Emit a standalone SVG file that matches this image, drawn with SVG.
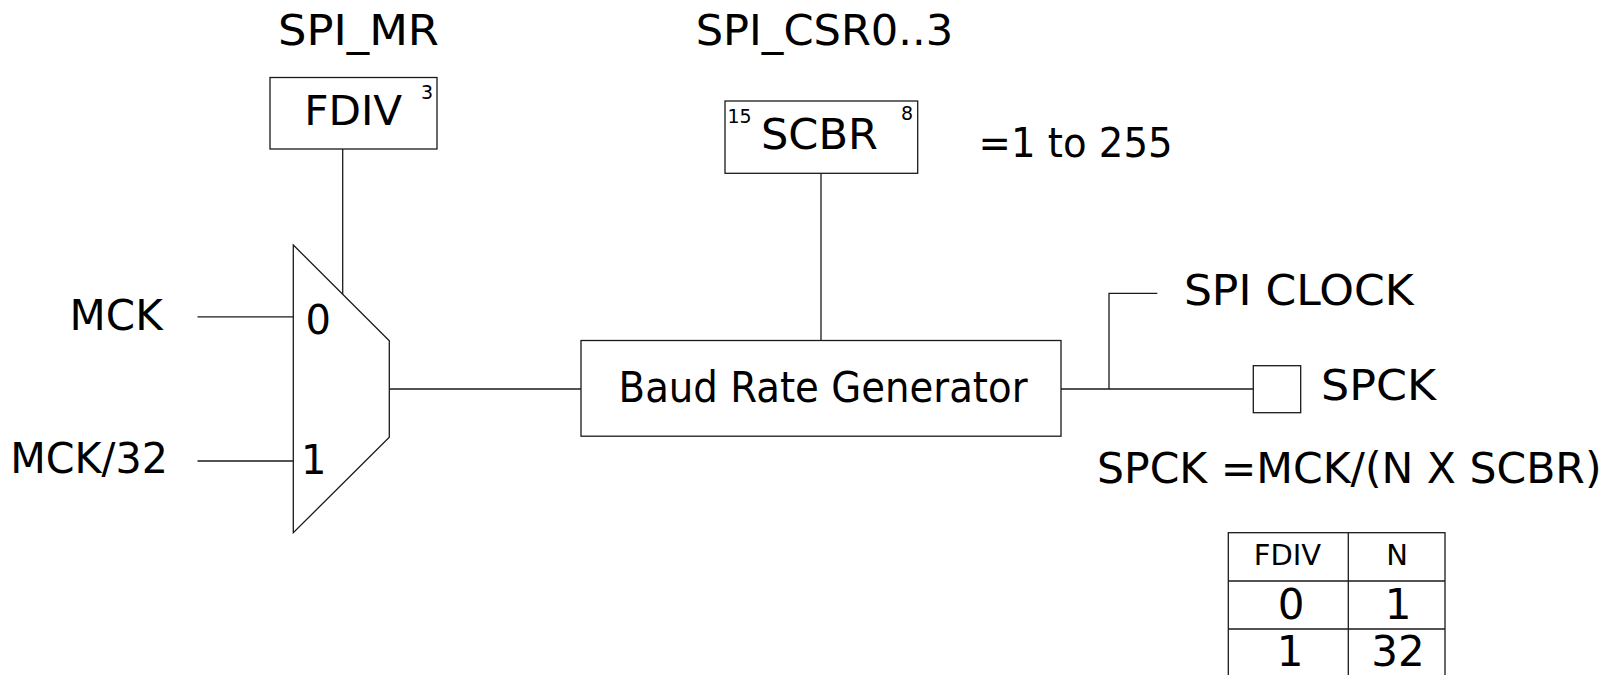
<svg xmlns="http://www.w3.org/2000/svg" width="1613" height="675" viewBox="0 0 1613 675">
<style>
  .ln { fill: none; stroke: #1a1a1a; stroke-width: 1.3; }
  .bx { fill: #ffffff; stroke: #1a1a1a; stroke-width: 1.3; }
  text { font-family: "DejaVu Sans", "Liberation Sans", sans-serif; fill: #000000; }
  .big { font-size: 42px; }
  .sup { font-size: 19px; }
  .mid { text-anchor: middle; }
</style>
<rect x="0" y="0" width="1613" height="675" fill="#ffffff"/>

<g id="connectors">
  <line class="ln" x1="342.7" y1="149" x2="342.7" y2="294.4"/>
  <line class="ln" x1="821" y1="173.3" x2="821" y2="340.5"/>
  <line class="ln" x1="197.5" y1="316.9" x2="293.3" y2="316.9"/>
  <line class="ln" x1="197.5" y1="461" x2="293.3" y2="461"/>
  <line class="ln" x1="389.3" y1="389" x2="581" y2="389"/>
  <line class="ln" x1="1061" y1="389" x2="1253.3" y2="389"/>
  <polyline class="ln" points="1109,389 1109,293.3 1157.3,293.3"/>
</g>

<g id="label-spi-mr">
  <text x="278" y="45" font-size="43" textLength="161" lengthAdjust="spacingAndGlyphs">SPI_MR</text>
</g>
<g id="label-spi-csr">
  <text class="big" x="695.7" y="45" textLength="257.5" lengthAdjust="spacingAndGlyphs">SPI_CSR0..3</text>
</g>

<g id="fdiv-reg">
  <rect class="bx" x="270" y="77.5" width="167" height="71.5"/>
  <text x="304.2" y="125" font-size="41" textLength="98" lengthAdjust="spacingAndGlyphs">FDIV</text>
  <text class="sup mid" x="427" y="99.3" font-size="18">3</text>
</g>

<g id="scbr-reg">
  <rect class="bx" x="725" y="101" width="192.7" height="72.3"/>
  <text class="big" x="761" y="149.3" textLength="117" lengthAdjust="spacingAndGlyphs">SCBR</text>
  <text class="sup mid" x="739.5" y="123.3">15</text>
  <text class="sup mid" x="907" y="120">8</text>
</g>

<g id="label-range">
  <text x="978.6" y="156.7" font-size="41" textLength="194" lengthAdjust="spacingAndGlyphs">=1 to 255</text>
</g>

<g id="label-mck">
  <text class="big" x="69.6" y="330">MCK</text>
</g>
<g id="label-mck32">
  <text class="big" x="10.2" y="473.3" textLength="157.7" lengthAdjust="spacingAndGlyphs">MCK/32</text>
</g>

<g id="mux">
  <polygon class="bx" points="293.3,245 389.3,340.7 389.3,437.3 293.3,532.7"/>
  <text x="305.5" y="334" font-size="40">0</text>
  <text x="301" y="474" font-size="40">1</text>
</g>

<g id="baud-rate-generator">
  <rect class="bx" x="581" y="340.5" width="480" height="95.7"/>
  <text x="618.6" y="401.7" font-size="42" textLength="409" lengthAdjust="spacingAndGlyphs">Baud Rate Generator</text>
</g>

<g id="label-spi-clock">
  <text class="big" x="1183.9" y="305" textLength="229.7" lengthAdjust="spacingAndGlyphs">SPI CLOCK</text>
</g>

<g id="spck-pin">
  <rect class="bx" x="1253.3" y="365.7" width="47.4" height="47"/>
  <text class="big" x="1321" y="400" textLength="115" lengthAdjust="spacingAndGlyphs">SPCK</text>
</g>

<g id="label-formula">
  <text class="big" x="1097" y="482.5" textLength="504.5" lengthAdjust="spacingAndGlyphs">SPCK =MCK/(N X SCBR)</text>
</g>

<g id="fdiv-table">
  <rect class="bx" x="1228.3" y="532.7" width="216.7" height="150"/>
  <line class="ln" x1="1348.3" y1="532.7" x2="1348.3" y2="682"/>
  <line class="ln" x1="1228.3" y1="581" x2="1445" y2="581"/>
  <line class="ln" x1="1228.3" y1="629" x2="1445" y2="629"/>
  <text class="mid" x="1287.5" y="565" font-size="29">FDIV</text>
  <text class="mid" x="1397" y="565" font-size="29">N</text>
  <text class="big mid" x="1291" y="619">0</text>
  <text class="big mid" x="1398" y="619">1</text>
  <text class="big mid" x="1290" y="665.7">1</text>
  <text class="big mid" x="1398" y="665.7">32</text>
</g>
</svg>
